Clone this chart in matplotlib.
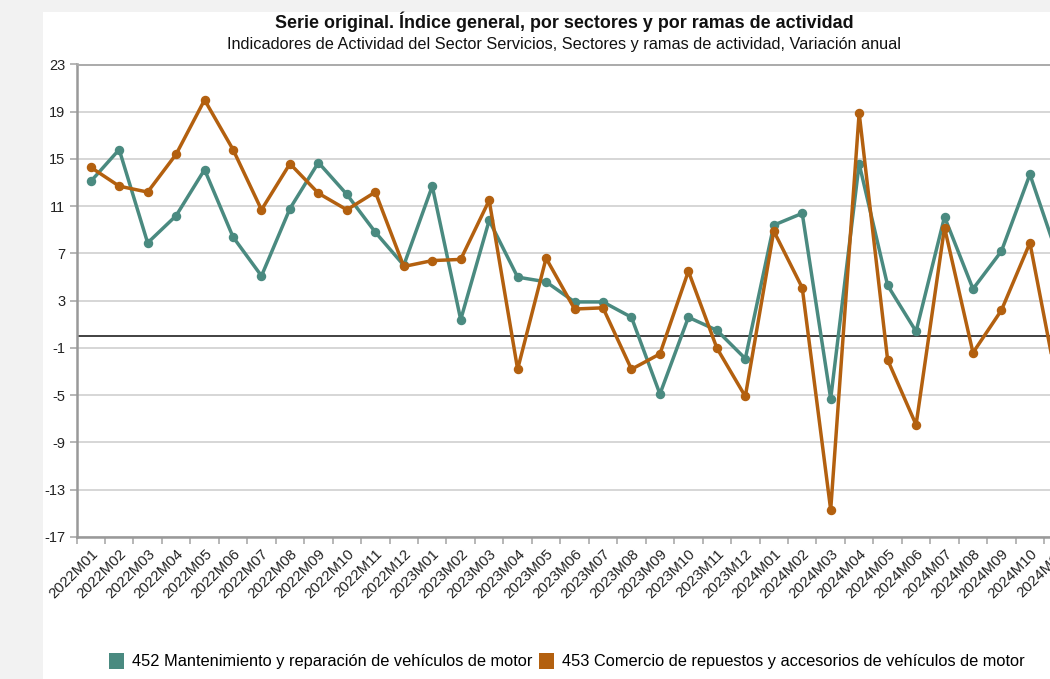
import matplotlib
matplotlib.use("Agg")
import matplotlib.pyplot as plt
from matplotlib.patches import Rectangle, Patch
import numpy as np

plt.rcParams['font.family'] = ['Liberation Sans', 'DejaVu Sans']

months = ["2022M01", "2022M02", "2022M03", "2022M04", "2022M05", "2022M06",
          "2022M07", "2022M08", "2022M09", "2022M10", "2022M11", "2022M12",
          "2023M01", "2023M02", "2023M03", "2023M04", "2023M05", "2023M06",
          "2023M07", "2023M08", "2023M09", "2023M10", "2023M11", "2023M12",
          "2024M01", "2024M02", "2024M03", "2024M04", "2024M05", "2024M06",
          "2024M07", "2024M08", "2024M09", "2024M10", "2024M11"]

serie_452 = [13.1, 15.8, 7.9, 10.2, 14.1, 8.4, 5.1, 10.8, 14.7, 12.0, 8.8, 6.0,
             12.7, 1.4, 9.8, 5.0, 4.6, 2.9, 2.9, 1.6, -4.9, 1.6, 0.5, -1.9,
             9.4, 10.4, -5.3, 14.6, 4.3, 0.4, 10.1, 4.0, 7.2, 13.7, 6.6]

serie_453 = [14.3, 12.7, 12.2, 15.4, 20.0, 15.8, 10.7, 14.6, 12.1, 10.7, 12.2, 5.9,
             6.4, 6.5, 11.5, -2.8, 6.6, 2.3, 2.4, -2.8, -1.5, 5.5, -1.0, -5.1,
             8.9, 4.1, -14.7, 18.9, -2.0, -7.5, 9.2, -1.4, 2.2, 7.9, -4.6]

yticks = [-17, -13, -9, -5, -1, 3, 7, 11, 15, 19, 23]

label_452 = "452 Mantenimiento y reparación de vehículos de motor"
label_453 = "453 Comercio de repuestos y accesorios de vehículos de motor"
title = "Serie original. Índice general, por sectores y por ramas de actividad"
subtitle = "Indicadores de Actividad del Sector Servicios, Sectores y ramas de actividad, Variación anual"

c452 = "#4a8a80"
c453 = "#b3600f"

W, H = 1050, 679
fig = plt.figure(figsize=(W / 100, H / 100), dpi=100, facecolor="#f2f2f2")

# white panel
fig.patches.append(Rectangle((43 / W, 0), 1 - 43 / W, 1 - 12 / H,
                             transform=fig.transFigure, facecolor="white",
                             edgecolor="none", zorder=-10))

n = len(months)
step = 28.46
left_px, top_px, bottom_px = 76.5, 64.5, 537.0
ax_w_px = n * step
ax = fig.add_axes([left_px / W, 1 - bottom_px / H, ax_w_px / W, (bottom_px - top_px) / H])
ax.set_zorder(1)
ax.set_facecolor("white")

x = np.arange(n)
ax.set_xlim(-0.5, n - 0.5)
ax.set_ylim(-17, 23)

ax.set_yticks(yticks)
ax.set_yticklabels([str(v) for v in yticks])
ax.grid(axis="y", color="#d6d6d6", linewidth=1.4, zorder=1)
ax.set_axisbelow(True)

ax.axhline(0, color="#333333", linewidth=1.3, zorder=2)

ax.plot(x, serie_452, color=c452, linewidth=2.5, marker="o", markersize=5.8,
        zorder=4, solid_joinstyle="round")
ax.plot(x, serie_453, color=c453, linewidth=2.5, marker="o", markersize=5.8,
        zorder=5, solid_joinstyle="round")

ax.set_xticks(x)
ax.set_xticklabels(months, rotation=45, ha="right", va="top",
                   rotation_mode="anchor", fontsize=10.8, color="#222222")
ax.tick_params(axis="x", which="major", length=0, pad=7)
ax.set_xticks(np.arange(n + 1) - 0.5, minor=True)
ax.tick_params(axis="x", which="minor", length=5, color="#aaaaaa", width=1.2)
ax.tick_params(axis="y", length=5, color="#aaaaaa", width=1.2, labelsize=10.5,
               labelcolor="#222222", pad=3)

for s in ["left", "bottom", "top"]:
    ax.spines[s].set_color("#999999")
    ax.spines[s].set_linewidth(1.8)
ax.spines["top"].set_color("#aaaaaa")
ax.spines["top"].set_linewidth(1.4)
ax.spines["right"].set_visible(False)

cx = 564 / W
fig.text(cx, 1 - 22 / H, title, ha="center", va="center", fontsize=12.9,
         fontweight="bold", color="#111111")
fig.text(cx, 1 - 44 / H, subtitle, ha="center", va="center", fontsize=11.7,
         color="#111111")

handles = [Patch(facecolor=c452, edgecolor="none", label=label_452),
           Patch(facecolor=c453, edgecolor="none", label=label_453)]
fig.legend(handles=handles, loc="center", bbox_to_anchor=(567 / W, 1 - 661 / H),
           ncol=2, frameon=False, fontsize=11.8, handlelength=0.9,
           handleheight=1.1, handletextpad=0.5, columnspacing=0.4)

fig.savefig("out.png", dpi=100, facecolor=fig.get_facecolor())
